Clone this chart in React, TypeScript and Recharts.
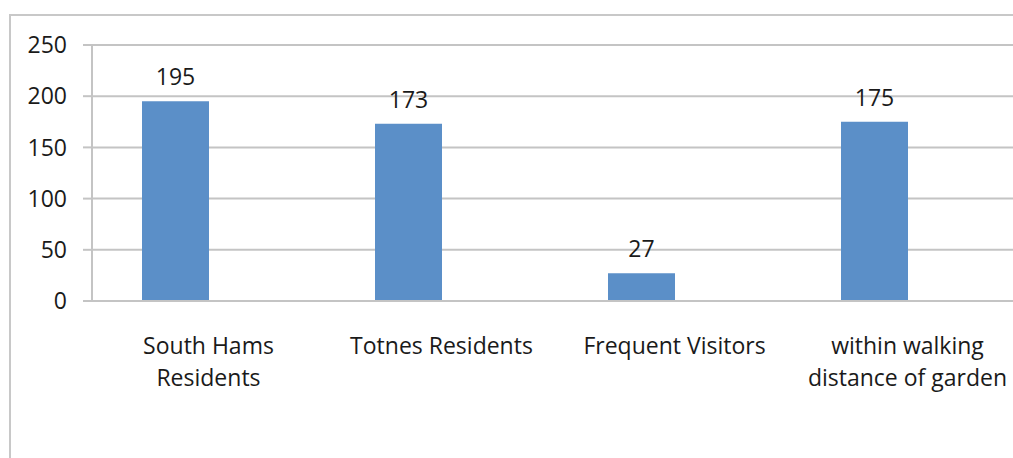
import { BarChart, Bar, XAxis, YAxis, CartesianGrid, LabelList } from 'recharts';

const categories = ['South Hams Residents', 'Totnes Residents', 'Frequent Visitors', 'within walking distance of garden'];
const categoryLines = [['South Hams', 'Residents'], ['Totnes Residents'], ['Frequent Visitors'], ['within walking', 'distance of garden']];
const counts = [195, 173, 27, 175];
// Excel chart had a second, empty series which keeps the bars left of centre
const emptySeries = [null, null, null, null];
const yTicks = [0, 50, 100, 150, 200, 250];
const boundaryTicks = [0, 1, 2, 3, 4];

const data = categories.map((name, i) => ({ name, idx: i, count: counts[i], empty: emptySeries[i] }));

const FONT = '"Open Sans", Lato, sans-serif';
const FS = 23;
const GRID = '#c4c4c4';

function CategoryTick(props: any) {
  const { x, payload, index } = props;
  const lines = categoryLines[index] ?? [payload.value];
  return (
    <text x={x} y={354} textAnchor="middle" fill="#1a1a1a" fontSize={FS} fontFamily={FONT}>
      {lines.map((l: string, i: number) => (
        <tspan key={i} x={x} y={354 + i * 32}>{l}</tspan>
      ))}
    </text>
  );
}

export default function App() {
  return (
    <div style={{ position: 'fixed', left: 0, top: 0, width: 1013, height: 458, overflow: 'hidden', background: '#fff' }}>
      <div style={{ position: 'absolute', left: 9, top: 14, width: 1100, height: 500, border: '2px solid #c8c8c8', boxSizing: 'border-box' }} />
      <div style={{ position: 'absolute', left: 0, top: 0 }}>
        <BarChart width={1030} height={470} data={data} margin={{ top: 45, right: 6, left: 0, bottom: 49 }} barGap={0} barCategoryGap={50}>
          <CartesianGrid horizontal vertical={false} stroke={GRID} strokeWidth={2} />
          <XAxis xAxisId="ticks" type="number" dataKey="idx" domain={[0, 4]} ticks={boundaryTicks} height={0}
            axisLine={false} tickLine={{ stroke: GRID, strokeWidth: 2 }} tickSize={8} tick={false} allowDataOverflow />
          <XAxis xAxisId="cat" dataKey="name" height={120} axisLine={{ stroke: GRID, strokeWidth: 2 }} tickLine={false}
            tick={<CategoryTick />} interval={0} />
          <YAxis width={92} domain={[0, 250]} ticks={yTicks} axisLine={{ stroke: GRID, strokeWidth: 2 }}
            tickLine={{ stroke: GRID, strokeWidth: 2 }} tickSize={9} tickMargin={16}
            tick={{ fill: '#1a1a1a', fontSize: FS, fontFamily: FONT }} />
          <Bar xAxisId="cat" dataKey="count" fill="#5b8fc8" isAnimationActive={false}>
            <LabelList dataKey="count" position="top" offset={16} fill="#1a1a1a" fontSize={FS} fontFamily={FONT} />
          </Bar>
          <Bar xAxisId="cat" dataKey="empty" fill="#c0504d" isAnimationActive={false} />
        </BarChart>
      </div>
    </div>
  );
}
